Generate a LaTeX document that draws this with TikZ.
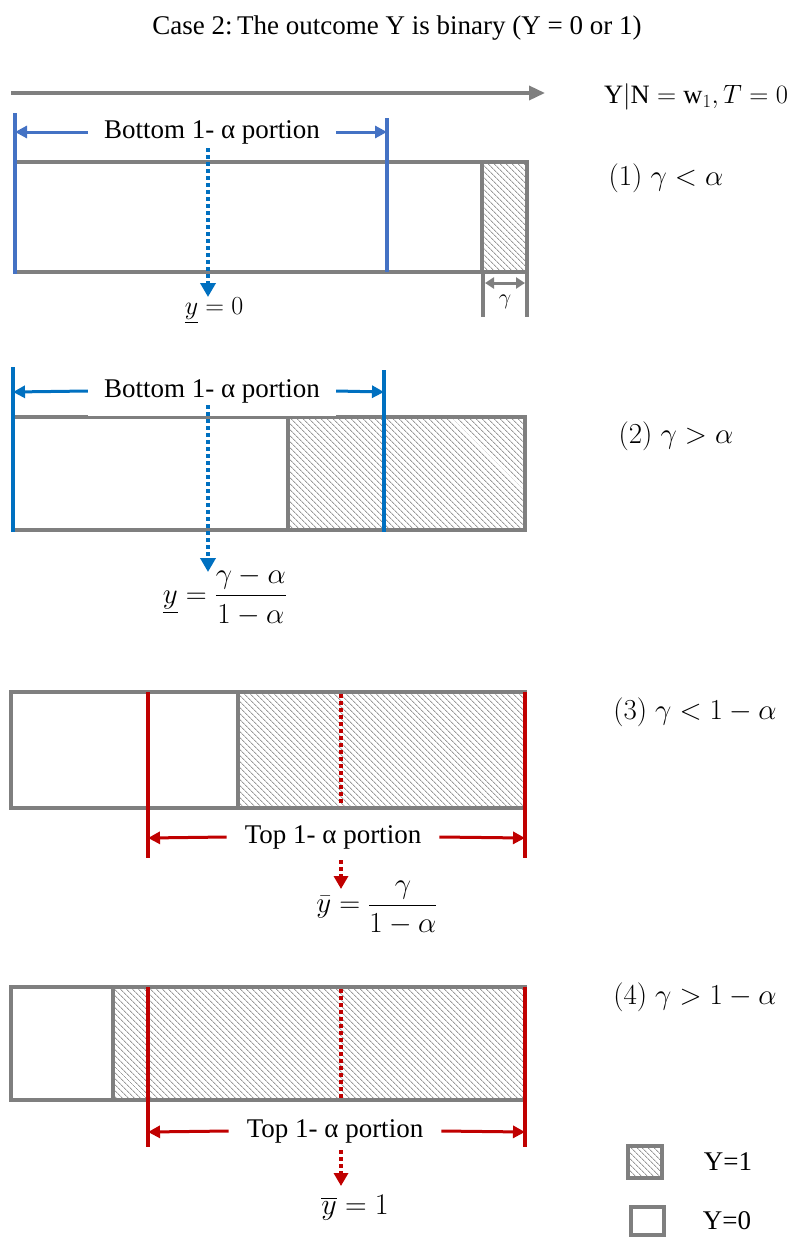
\RequirePackage{fix-cm}
\documentclass[tikz,border=0pt]{standalone}
\usepackage{amsmath}
\usepackage{fontspec}
\setmainfont{Liberation Serif}
\usetikzlibrary{arrows.meta,patterns.meta}
\definecolor{boxgray}{HTML}{7F7F7F}
\definecolor{hatchgray}{HTML}{9A9A9A}
\definecolor{blueA}{HTML}{4472C4}
\definecolor{blueB}{HTML}{0070C0}
\definecolor{redA}{HTML}{C00000}
\begin{document}
\begin{tikzpicture}[x=1pt,y=-1pt,
  every node/.style={font=\fontsize{27}{32}\selectfont, inner sep=2pt},
  mathbig/.style={font=\fontsize{29}{33}\selectfont},
  graybox/.style={draw=boxgray,line width=4pt},
  hatched/.style={pattern={Lines[angle=-45,distance=4pt,line width=0.9pt]},pattern color=hatchgray},
  bluebar/.style={draw=blueA,line width=3.5pt},
  bluebarB/.style={draw=blueB,line width=3.5pt},
  redbar/.style={draw=redA,line width=3.5pt},
  dimblue/.style={draw=blueA,line width=3pt,-{Triangle[length=12pt,width=12pt]}},
  dimblueB/.style={draw=blueB,line width=3pt,-{Triangle[length=12pt,width=12pt]}},
  dimred/.style={draw=redA,line width=3pt,-{Triangle[length=12pt,width=12pt]}},
  dotblue/.style={draw=blueB,line width=4pt,dash pattern=on 4pt off 3pt,-{Triangle[length=14pt,width=15pt]}},
  dotred/.style={draw=redA,line width=4pt,dash pattern=on 4pt off 3pt},
  dotredarrow/.style={dotred,-{Triangle[length=13pt,width=14pt]}},
  portion/.style={fill=white,inner xsep=16pt,minimum height=50pt},
  topportion/.style={inner xsep=18pt,inner ysep=1pt},
]
\useasboundingbox (0,0) rectangle (797,1237);

% title and axis
\node (title) at (397,28) {Case 2:\,The outcome Y is binary (Y = 0 or 1)};
\coordinate (ta) at (11,93);
\coordinate (tb) at (545,93);
\draw[boxgray,line width=3.5pt,-{Triangle[length=16pt,width=14pt]}] (ta) -- (tb);
\node[font=\fontsize{26.5}{31}\selectfont] (cond) at (696,97) {$\mathrm{Y}|\mathrm{N}=\mathrm{w}_1,T=0$};

% ---------- case 1
\draw[graybox] (15,162) rectangle (527,272);
\draw[graybox,hatched] (482,162) rectangle (527,272);
\draw[bluebar] (15,113) -- (15,274);
\draw[bluebar] (387,118) -- (387,272);
\node[portion] (p1) at (212,132) {Bottom 1- α portion};
\coordinate (p1l) at (15,132);
\coordinate (p1r) at (387,132);
\draw[dimblue] (p1.west) -- (p1l);
\draw[dimblue] (p1.east) -- (p1r);
\coordinate (d1a) at (208,148);
\node[font=\fontsize{26}{30}\selectfont] (f1) at (214,311) {$\underline{y}=0$};
\draw[dotblue] (d1a) -- (208,297) coordinate (d1b);
\draw[graybox] (483,272) -- (483,317);
\draw[graybox] (527,272) -- (527,317);
\coordinate (g1) at (485,283);
\coordinate (g2) at (525,283);
\draw[boxgray,line width=3pt,{Triangle[length=9pt,width=11pt]}-{Triangle[length=9pt,width=11pt]}] (g1) -- (g2);
\node[font=\fontsize{22}{24}\selectfont] (gam) at (505,302) {$\gamma$};
\node[mathbig] (c1) at (666,178) {$(1)\;\gamma<\alpha$};

% ---------- case 2
\draw[graybox] (13,417) rectangle (525,530);
\draw[graybox,hatched] (288,417) rectangle (525,530);
\draw[bluebarB] (13,367) -- (13,532);
\draw[bluebarB] (384,370) -- (384,532);
\node[portion] (p2) at (212,391) {Bottom 1- α portion};
\coordinate (p2l) at (13,392);
\coordinate (p2r) at (384,392);
\draw[dimblueB] (p2.west) -- (p2l);
\draw[dimblueB] (p2.east) -- (p2r);
\coordinate (d2a) at (208,405);
\draw[dotblue] (d2a) -- (208,572) coordinate (d2b);
\node[font=\fontsize{29}{33}\selectfont] (f2) at (225,596) {$\underline{y}=\dfrac{\gamma-\alpha}{1-\alpha}$};
\node[mathbig] (c2) at (676,436) {$(2)\;\gamma>\alpha$};

% ---------- case 3
\draw[graybox] (11,692) rectangle (525,808);
\draw[graybox,hatched] (238,692) rectangle (525,808);
\draw[redbar] (148,692) -- (148,858);
\draw[redbar] (525,692) -- (525,858);
\draw[dotred] (341,694) -- (341,806);
\node[topportion] (p3) at (333,837) {Top 1- α portion};
\coordinate (p3l) at (148,838);
\coordinate (p3r) at (525,838);
\draw[dimred] (p3.west) -- (p3l);
\draw[dimred] (p3.east) -- (p3r);
\coordinate (d3a) at (341,860);
\draw[dotredarrow] (d3a) -- (341,889) coordinate (d3b);
\node[font=\fontsize{29}{33}\selectfont] (f3) at (377,908) {$\bar{y}=\dfrac{\gamma}{1-\alpha}$};
\node[mathbig] (c3) at (695,712) {$(3)\;\gamma<1-\alpha$};

% ---------- case 4
\draw[graybox] (11,987) rectangle (113,1100);
\draw[graybox,hatched] (113,987) rectangle (525,1100);
\draw[redbar] (148,987) -- (148,1147);
\draw[redbar] (525,987) -- (525,1147);
\draw[dotred] (341,989) -- (341,1098);
\node[topportion] (p4) at (335,1131) {Top 1- α portion};
\coordinate (p4l) at (148,1132);
\coordinate (p4r) at (525,1132);
\draw[dimred] (p4.west) -- (p4l);
\draw[dimred] (p4.east) -- (p4r);
\coordinate (d4a) at (341,1150);
\draw[dotredarrow] (d4a) -- (341,1186) coordinate (d4b);
\node[font=\fontsize{30}{34}\selectfont] (f4) at (355,1208) {$\overline{y}=1$};
\node[mathbig] (c4) at (695,997) {$(4)\;\gamma>1-\alpha$};

% ---------- legend
\draw[graybox,hatched] (628,1146) rectangle (662,1178);
\node (l1) at (728,1162) {Y=1};
\draw[graybox] (631,1207) rectangle (664,1235);
\node (l0) at (727,1221) {Y=0};
\end{tikzpicture}
\end{document}
